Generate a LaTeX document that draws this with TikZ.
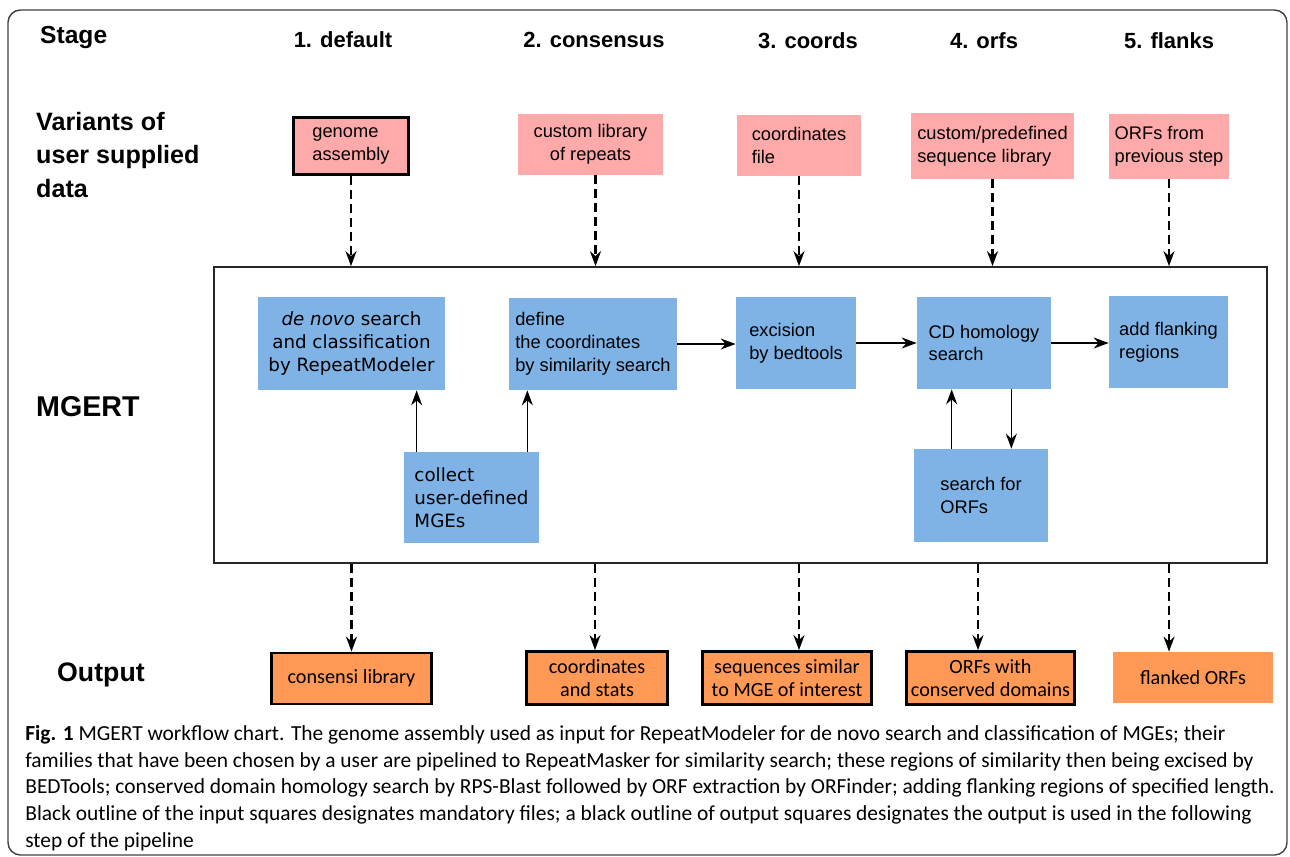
\documentclass[tikz,border=0pt]{standalone}
\usepackage{fontspec}
\setmainfont{Liberation Sans}
\newfontfamily\dejavu{DejaVu Sans}
\newfontfamily\capfont{Carlito}
\usetikzlibrary{arrows.meta, positioning, calc}
\definecolor{inpink}{HTML}{FFAAAA}
\definecolor{stepblue}{HTML}{7FB2E5}
\definecolor{outorange}{HTML}{FF9955}
\begin{document}
\begin{tikzpicture}[
    x=0.02cm, y=-0.02cm,
    >=Stealth,
    box/.style={inner sep=0pt, align=left, font=\fontsize{10.4}{13}\selectfont},
    inbox/.style={box, fill=inpink},
    mandbox/.style={inbox, draw=black, line width=1.6pt},
    stepbox/.style={box, fill=stepblue},
    outbox/.style={box, fill=outorange, align=center, font=\capfont\fontsize{11.5}{13}\selectfont},
    usedbox/.style={outbox, draw=black, line width=1.6pt},
    arr/.style={-{Stealth[length=3mm, width=2.2mm]}, line width=0.8pt},
    dasharr/.style={-{Stealth[length=3mm, width=2.2mm]}, line width=1.3pt, dash pattern=on 1.8mm off 1mm},
    stagelbl/.style={font=\bfseries\fontsize{12.5}{15}\selectfont},
    rowlbl/.style={anchor=west, align=left, font=\bfseries\fontsize{14.3}{19}\selectfont},
]
\useasboundingbox (0,0) rectangle (1290,856);
\draw[rounded corners=0.25cm, line width=0.8pt, black!75] (8,10) rectangle (1287,855);
% === Stage headers ===
\node[stagelbl, anchor=west, font=\bfseries\fontsize{14}{16}\selectfont] (stage) at (34,38) {Stage};
\node[stagelbl] (st1) at (343,40) {1. default};
\node[stagelbl] (st2) at (594,40) {2. consensus};
\node[stagelbl] (st3) at (808,41) {3. coords};
\node[stagelbl] (st4) at (984,41) {4. orfs};
\node[stagelbl] (st5) at (1169,41) {5. flanks};
% === Row labels ===
\node[rowlbl] (variants) at (30,155) {Variants of\\user supplied\\data};
\node[rowlbl, font=\bfseries\fontsize{16.3}{19}\selectfont] (mgertlbl) at (30,407) {MGERT};
\node[rowlbl, font=\bfseries\fontsize{15.2}{18}\selectfont] (outputlbl) at (51,675) {Output};
% === User supplied inputs (black outline = mandatory) ===
\node[mandbox, minimum width=2.3cm, minimum height=1.14cm] (genome) at (351,146) {genome\\assembly};
\node[inbox, minimum width=2.9cm, minimum height=1.22cm, align=center] (replib) at (590.5,144.5) {custom library\\of repeats};
\node[inbox, minimum width=2.48cm, minimum height=1.22cm] (coordfile) at (799,145.5) {coordinates\\file};
\node[inbox, minimum width=3.26cm, minimum height=1.32cm] (seqlib) at (992.5,146) {custom/predefined\\sequence library};
\node[inbox, minimum width=2.4cm, minimum height=1.3cm] (prevorfs) at (1169,146.5) {ORFs from\\previous step};
% === MGERT pipeline frame ===
\node[draw=black!85, line width=1pt, minimum width=21.06cm, minimum height=5.92cm, inner sep=0pt] (pipeline) at (740.5,415) {};
\draw[dasharr] (genome) -- (genome |- pipeline.north);
\draw[dasharr] ([xshift=0.1cm]replib.south) -- ([xshift=0.1cm]replib.south |- pipeline.north);
\draw[dasharr] (coordfile) -- (coordfile |- pipeline.north);
\draw[dasharr] (seqlib) -- (seqlib |- pipeline.north);
\draw[dasharr] (prevorfs) -- (prevorfs |- pipeline.north);
% === Steps ===
\node[stepbox, minimum width=3.74cm, minimum height=1.86cm, align=center, font=\dejavu\fontsize{10.4}{13}\selectfont] (denovo) at (351.5,343.5) {\textit{de novo} search\\and classification\\by RepeatModeler};
\node[stepbox, minimum width=3.36cm, minimum height=1.84cm] (define) at (593,344) {define\\the coordinates\\by similarity search};
\node[stepbox, minimum width=2.4cm, minimum height=1.84cm] (excise) at (796,343) {excision\\by bedtools};
\node[stepbox, minimum width=2.68cm, minimum height=1.84cm] (cdsearch) at (984,343) {CD homology\\search};
\node[stepbox, minimum width=2.38cm, minimum height=1.84cm] (flank) at (1168.5,342) {add flanking\\regions};
\node[stepbox, minimum width=2.68cm, minimum height=1.86cm] (orfsearch) at (981,495.5) {search for\\ORFs};
\node[stepbox, minimum width=2.7cm, minimum height=1.82cm, font=\dejavu\fontsize{10.4}{13}\selectfont] (collect) at (471.5,497.5) {collect\\user-defined\\MGEs};
\draw[arr] (define.east) -- (define.east -| excise.west);
\draw[arr] (excise.east) -- (excise.east -| cdsearch.west);
\draw[arr] (cdsearch.east) -- (cdsearch.east -| flank.west);
\draw[arr] ([xshift=0.26cm]collect.north west) -- ([xshift=0.26cm]collect.north west |- denovo.south);
\draw[arr] ([xshift=-0.24cm]collect.north east) -- ([xshift=-0.24cm]collect.north east |- define.south);
\draw[arr] ([xshift=0.76cm]orfsearch.north west) -- ([xshift=0.76cm]orfsearch.north west |- cdsearch.south);
\draw[arr] ([xshift=-0.8cm]cdsearch.south east) -- ([xshift=-0.8cm]cdsearch.south east |- orfsearch.north);
% === Outputs (black outline = used by the following step) ===
\node[usedbox, minimum width=3.2cm, minimum height=1.02cm] (consensi) at (351.5,678.5) {consensi library};
\node[usedbox, minimum width=2.82cm, minimum height=1.06cm] (coordstats) at (597,678) {coordinates\\and stats};
\node[usedbox, minimum width=3.38cm, minimum height=1.06cm] (similar) at (787,678) {sequences similar\\to MGE of interest};
\node[usedbox, minimum width=3.36cm, minimum height=1.06cm] (orfdomains) at (990.5,678) {ORFs with\\conserved domains};
\node[outbox, minimum width=3.2cm, minimum height=1.02cm] (flankedorfs) at (1193,677.5) {flanked ORFs};
\draw[dasharr] (consensi |- pipeline.south) -- (consensi);
\draw[dasharr] ([xshift=-0.04cm]coordstats.north |- pipeline.south) -- ([xshift=-0.04cm]coordstats.north);
\draw[dasharr] (coordfile |- pipeline.south) -- (coordfile |- similar.north);
\draw[dasharr] ([xshift=-0.25cm]orfdomains.north |- pipeline.south) -- ([xshift=-0.25cm]orfdomains.north);
\draw[dasharr] (prevorfs |- pipeline.south) -- (prevorfs |- flankedorfs.north);
% === Caption ===
\node[anchor=north west, inner sep=0pt, align=left, font=\capfont\fontsize{12.2}{15.2}\selectfont] (caption) at (25,725)
  {\textbf{Fig. 1} MGERT workflow chart. The genome assembly used as input for RepeatModeler for de novo search and classification of MGEs; their\\
   families that have been chosen by a user are pipelined to RepeatMasker for similarity search; these regions of similarity then being excised by\\
   BEDTools; conserved domain homology search by RPS-Blast followed by ORF extraction by ORFinder; adding flanking regions of specified length.\\
   Black outline of the input squares designates mandatory files; a black outline of output squares designates the output is used in the following\\
   step of the pipeline};
\end{tikzpicture}
\end{document}
